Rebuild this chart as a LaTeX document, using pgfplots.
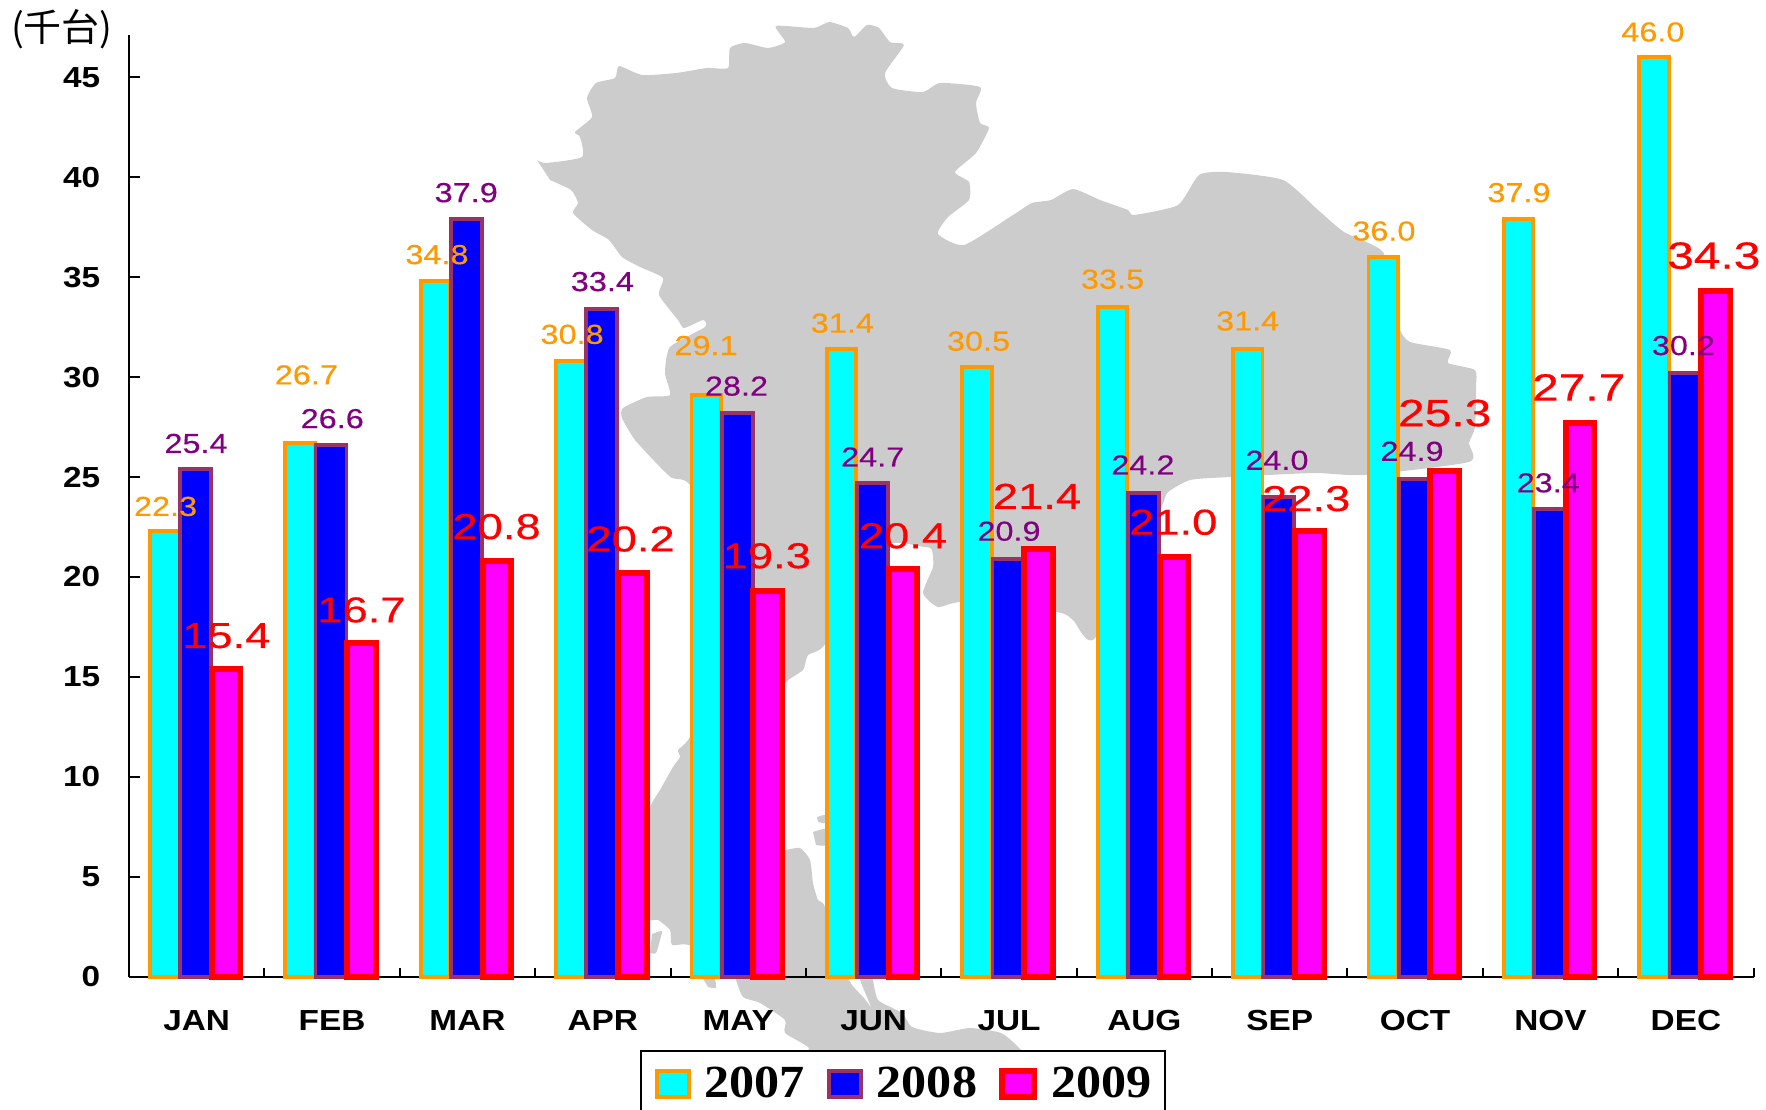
\documentclass[border=0pt]{standalone}
\usepackage{pgfplots}
\pgfplotsset{compat=1.18}
\usepackage{fontspec}
\setmainfont{Liberation Sans}
\newfontfamily\labfont[FakeStretch=1.18,FakeBold=0.3]{Liberation Sans}
\newfontfamily\redfont[FakeStretch=1.26,FakeBold=0.4]{Liberation Sans}
\newfontfamily\tickfont[FakeStretch=1.15]{Liberation Sans}
\newfontfamily\legfont[FakeStretch=1.09]{Liberation Serif}
\newfontfamily\cjk{Noto Sans CJK JP}
\definecolor{mapgray}{HTML}{CCCCCC}
\definecolor{ora}{HTML}{FF9900}
\definecolor{pur}{HTML}{993366}
\definecolor{labpur}{HTML}{800080}
\definecolor{cy}{HTML}{00FFFF}
\definecolor{mg}{HTML}{FF00FF}
\definecolor{bl}{HTML}{0000FF}
\definecolor{rd}{HTML}{FF0000}
\begin{document}
\begin{tikzpicture}
\path[use as bounding box] (0,0) rectangle (883pt,554.5pt);
% ---------- background map, in picture pixels
\begin{axis}[at={(0pt,0pt)},anchor=south west,scale only axis,width=883pt,height=554.5pt,
  xmin=0,xmax=1766,ymin=0,ymax=1109,y dir=reverse,hide axis]
\addplot[fill=mapgray,draw=none,forget plot,smooth,tension=0.35] coordinates {
(537,160)(546,163)(582,157)(580,137)(575,132)(592,117)(587,98)(596,83)(615,78)(619,66)(642,75)(676,73)(707,68)(728,68)(730,48)(745,43)(768,48)(785,42)(776,26)(814,28)(829,22)(848,28)(854,37)(867,25)(879,28)(890,42)(904,45)(885,73)(892,88)(923,92)(940,83)(980,87)(976,103)(980,123)(989,128)(976,153)(955,172)(969,182)(969,200)(948,217)(938,234)(964,245)(1013,215)(1032,203)(1051,200)(1073,189)(1100,200)(1128,210)(1134,215)(1178,205)(1199,175)(1226,172)(1283,180)(1318,210)(1344,232)(1383,252)(1390,300)(1400,330)(1410,342)(1450,350)(1448,363)(1475,370)(1476,387)(1475,427)(1469,443)(1469,462)(1364,475)(1314,473)(1230,477)(1190,480)(1167,493)(1160,510)(1095,638)(1073,620)(1057,612)(963,602)(938,607)(923,593)(933,567)(932,550)(925,547)(880,547)(826,643)(808,655)(803,670)(785,683)(760,720)(755,800)(770,850)(785,850)(800,848)(810,860)(813,883)(818,900)(825,907)(845,970)(852,985)(864,998)(871,1007)(864,990)(860,978)(872,978)(878,1000)(902,1013)(912,1027)(940,1033)(970,1028)(1001,1033)(1019,1048)(1025,1065)(805,1065)(809,1048)(785,1033)(785,1020)(760,1003)(743,997)(736,980)(733,970)(689,945)(672,945)(670,930)(658,920)(650,920)(635,910)(630,860)(650,807)(660,790)(673,767)(680,757)(678,750)(688,740)(720,690)(745,640)(730,560)(690,485)(672,478)(660,467)(635,440)(622,418)(623,408)(647,397)(670,395)(665,373)(670,347)(705,327)(703,320)(684,328)(678,320)(659,295)(663,278)(640,267)(622,257)(609,240)(592,230)(573,213)(578,203)(571,190)(550,180)
} -- cycle;
\addplot[fill=mapgray,draw=none,forget plot,smooth,tension=0.35] coordinates {(817,817)(825,815)(826,823)(818,822)} -- cycle;
\addplot[fill=mapgray,draw=none,forget plot,smooth,tension=0.35] coordinates {(813,832)(826,829)(826,845)(816,845)} -- cycle;
\addplot[fill=mapgray,draw=none,forget plot,smooth,tension=0.35] coordinates {(652,934)(662,931)(660,940)(656,953)(650,953)} -- cycle;
\addplot[fill=mapgray,draw=none,forget plot,smooth,tension=0.35] coordinates {(702,977)(714,978)(716,988)(708,987)} -- cycle;
\end{axis}
% ---------- chart
\begin{axis}[at={(64.5pt,66.15pt)},anchor=south west,scale only axis,width=812.3pt,height=470.85pt,
  xmin=-0.5,xmax=11.5,ymin=0,ymax=47.12,clip=false,
  axis x line*=bottom,axis y line*=left,
  axis line style={line width=1pt,black},
  tick align=inside,
  xtick={-0.5,0.5,1.5,2.5,3.5,4.5,5.5,6.5,7.5,8.5,9.5,10.5,11.5},
  x tick label as interval,
  xticklabels={JAN,FEB,MAR,APR,MAY,JUN,JUL,AUG,SEP,OCT,NOV,DEC},
  ytick={0,5,10,15,20,25,30,35,40,45},
  x tick style={line width=1pt,black,/pgfplots/major tick length=4.5pt},
  y tick style={line width=1pt,black,/pgfplots/major tick length=5.75pt},
  /pgf/number format/assume math mode=true,
  x tick label style={font=\tickfont\bfseries\fontsize{14.5pt}{16pt}\selectfont,inner sep=0pt,yshift=-16.7pt,anchor=north},
  y tick label style={font=\tickfont\bfseries\fontsize{14.5pt}{16pt}\selectfont,inner sep=0pt,xshift=-14.2pt,anchor=east},
  legend columns=3,
  legend image code/.code={\draw[#1] (0pt,-6.5pt) rectangle (16pt,6.5pt);},
  legend style={at={(0.3145,-0.0778)},anchor=north west,draw=black,line width=1pt,fill=white,
    font=\legfont\bfseries\fontsize{23pt}{25pt}\selectfont,
    inner xsep=7pt,inner ysep=8pt,
    nodes={inner sep=0pt},
    /tikz/every odd column/.append style={column sep=7pt},
    /tikz/every even column/.append style={column sep=11pt}},
]
\addplot[ybar,bar width=14.75pt,bar shift=-16pt,draw=ora,line width=1.9pt,fill=cy] coordinates {
(0,22.3)(1,26.7)(2,34.8)(3,30.8)(4,29.1)(5,31.4)(6,30.5)(7,33.5)(8,31.4)(9,36.0)(10,37.9)(11,46.0)};
\addlegendentry{2007}
\addplot[ybar,bar width=15.5pt,bar shift=-0.5pt,draw=pur,line width=1.9pt,fill=bl] coordinates {
(0,25.4)(1,26.6)(2,37.9)(3,33.4)(4,28.2)(5,24.7)(6,20.9)(7,24.2)(8,24.0)(9,24.9)(10,23.4)(11,30.2)};
\addlegendentry{2008}
\addplot[ybar,bar width=14.25pt,bar shift=14.75pt,draw=rd,line width=3pt,fill=mg] coordinates {
(0,15.4)(1,16.7)(2,20.8)(3,20.2)(4,19.3)(5,20.4)(6,21.4)(7,21.0)(8,22.3)(9,25.3)(10,27.7)(11,34.3)};
\addlegendentry{2009}
% data labels (positions)
\addplot[sharp plot,draw=none,mark=none,forget plot,nodes near coords,point meta=explicit symbolic,
  nodes near coords style={anchor=center,inner sep=0pt,yshift=0.6pt,text=ora,font=\labfont\fontsize{13.75pt}{15pt}\selectfont}]
  table[x=x,y=y,meta=l] {
x y l
-0.230 23.47 22.3
0.810 30.05 26.7
1.775 36.07 34.8
2.773 32.08 30.8
3.762 31.52 29.1
4.769 32.64 31.4
5.775 31.74 30.5
6.765 34.84 33.5
7.763 32.75 31.4
8.769 37.25 36.0
9.767 39.17 37.9
10.756 47.21 46.0
};
\addplot[sharp plot,draw=none,mark=none,forget plot,nodes near coords,point meta=explicit symbolic,
  nodes near coords style={anchor=center,inner sep=0pt,yshift=0.6pt,text=labpur,font=\labfont\fontsize{13.75pt}{15pt}\selectfont}]
  table[x=x,y=y,meta=l] {
x y l
-0.005 26.62 25.4
1.001 27.86 26.6
1.991 39.17 37.9
2.997 34.72 33.4
3.987 29.49 28.2
4.993 25.95 24.7
6.000 22.23 20.9
6.989 25.55 24.2
7.979 25.78 24.0
8.977 26.23 24.9
9.983 24.65 23.4
10.981 31.52 30.2
};
\addplot[sharp plot,draw=none,mark=none,forget plot,nodes near coords,point meta=explicit symbolic,
  nodes near coords style={anchor=center,inner sep=0pt,yshift=0.6pt,text=rd,font=\redfont\fontsize{18pt}{20pt}\selectfont}]
  table[x=x,y=y,meta=l] {
x y l
0.219 17.00 15.4
1.217 18.29 16.7
2.215 22.46 20.8
3.205 21.84 20.2
4.211 21.00 19.3
5.217 22.00 20.4
6.207 23.98 21.4
7.213 22.68 21.0
8.195 23.86 22.3
};
\addplot[sharp plot,draw=none,mark=none,forget plot,nodes near coords,point meta=explicit symbolic,
  nodes near coords style={anchor=center,inner sep=0pt,yshift=0.6pt,text=rd,font=\redfont\fontsize{19pt}{21pt}\selectfont}]
  table[x=x,y=y,meta=l] {
x y l
9.218 28.14 25.3
10.208 29.43 27.7
11.206 36.02 34.3
};
\node[inner sep=0pt,font=\cjk\fontsize{19pt}{21pt}\selectfont] at (axis cs:-0.995,47.4) {(千台)};
\end{axis}
\end{tikzpicture}
\end{document}
